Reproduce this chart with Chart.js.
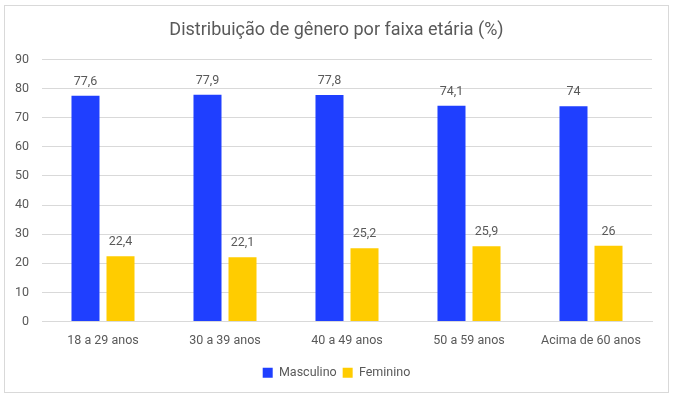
<!DOCTYPE html>
<html>
<head>
<meta charset="utf-8">
<script src="https://cdn.jsdelivr.net/npm/chart.js@4/dist/chart.umd.min.js"></script>
<style>
  body { margin: 0; background: #fff; }
  #wrap { position: relative; width: 673px; height: 397px; }
  #frame { position: absolute; left: 4px; top: 5px; width: 663px; height: 386px; border: 1px solid #d9d9d9; pointer-events: none; }
</style>
</head>
<body>
<div id="wrap">
  <canvas id="genderChart" width="673" height="397"></canvas>
  <div id="frame"></div>
</div>
<script>
const categories = ['18 a 29 anos', '30 a 39 anos', '40 a 49 anos', '50 a 59 anos', 'Acima de 60 anos'];
const masculino = [77.6, 77.9, 77.8, 74.1, 74];
const feminino = [22.4, 22.1, 25.2, 25.9, 26];

const textColor = '#595959';
const fontFamily = 'Roboto, "Liberation Sans", sans-serif';

// draws the value above each bar, with a decimal comma
const valueLabels = {
    id: 'valueLabels',
    afterDatasetsDraw(chart) {
        const ctx = chart.ctx;
        ctx.save();
        ctx.font = '12.5px ' + fontFamily;
        ctx.fillStyle = textColor;
        ctx.textAlign = 'center';
        ctx.textBaseline = 'bottom';
        chart.data.datasets.forEach(function (ds, i) {
            chart.getDatasetMeta(i).data.forEach(function (bar, j) {
                const txt = String(ds.data[j]).replace('.', ',');
                ctx.fillText(txt, bar.x, bar.y - 8);
            });
        });
        ctx.restore();
    }
};

const ctx = document.querySelector('#genderChart').getContext('2d');

new Chart(ctx, {
    type: 'bar',
    data: {
        labels: categories,
        datasets: [{
            label: 'Masculino',
            data: masculino,
            backgroundColor: '#1f3fff',
            borderWidth: 0,
            barPercentage: 0.8,
            categoryPercentage: 0.574
        }, {
            label: 'Feminino',
            data: feminino,
            backgroundColor: '#ffcc00',
            borderWidth: 0,
            barPercentage: 0.8,
            categoryPercentage: 0.574
        }]
    },
    options: {
        responsive: false,
        animation: false,
        layout: {
            padding: { left: 10, right: 10, top: 16, bottom: 8 }
        },
        plugins: {
            title: {
                display: true,
                text: 'Distribuição de gênero por faixa etária (%)',
                color: textColor,
                font: { family: fontFamily, size: 18, weight: 'normal' },
                padding: { top: 4, bottom: 18 }
            },
            legend: {
                position: 'bottom',
                labels: {
                    color: textColor,
                    font: { family: fontFamily, size: 12.5 },
                    boxWidth: 10,
                    boxHeight: 10,
                    padding: 6
                }
            },
            tooltip: { enabled: false }
        },
        scales: {
            y: {
                min: 0,
                max: 90,
                afterFit: function (scale) { scale.width = 32; },
                ticks: {
                    stepSize: 10,
                    color: textColor,
                    font: { family: fontFamily, size: 12.5 },
                    padding: 13
                },
                grid: { color: '#d9d9d9', drawTicks: false },
                border: { display: false }
            },
            yRight: {
                position: 'right',
                afterFit: function (scale) { scale.width = 11; },
                ticks: { display: false },
                grid: { display: false, drawTicks: false },
                border: { display: false }
            },
            x: {
                ticks: {
                    color: textColor,
                    font: { family: fontFamily, size: 12.5 },
                    padding: 12
                },
                grid: { display: false, drawTicks: false },
                border: { color: '#d9d9d9' }
            }
        }
    },
    plugins: [valueLabels]
});
</script>
</body>
</html>
